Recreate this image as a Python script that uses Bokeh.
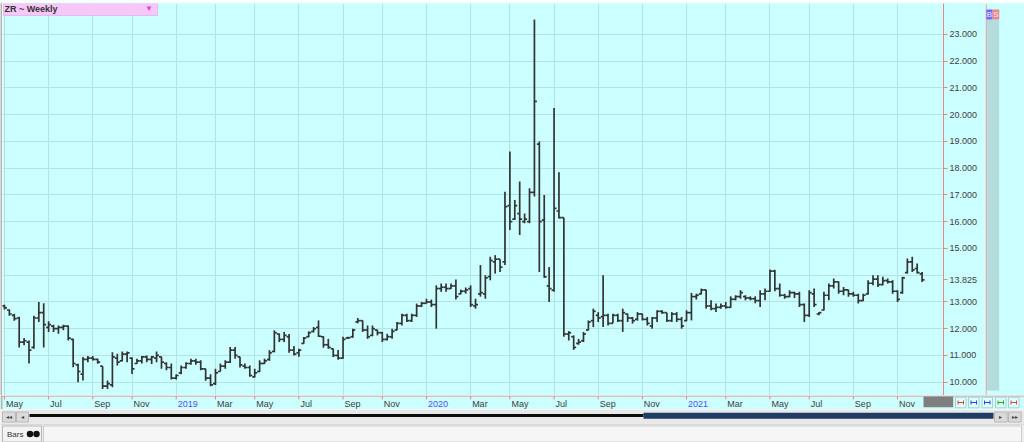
import pandas as pd
from bokeh.plotting import figure
from bokeh.models import (Range1d, FixedTicker, NumeralTickFormatter, Label,
                          BoxAnnotation, ColumnDataSource, Grid)
from bokeh.layouts import column, row
from bokeh.transform import dodge
from bokeh.embed import file_html
from bokeh.resources import INLINE
from bokeh.core.properties import value

# ---------------- data (weekly OHLC, ZR rough rice) ----------------
opens = [12.85, 12.7, 12.5, 12.4, 11.5, 11.5, 11.3, 12.4, 12.6, 12.05,
         12.1, 12.0, 12.05, 12.1, 11.6, 10.65, 10.3, 10.85, 10.9, 10.85,
         10.6, 9.85, 9.9, 10.9, 10.8, 11.05, 10.9, 10.7, 10.8, 10.95,
         10.85, 10.9, 10.95, 10.7, 10.55, 10.15, 10.35, 10.55, 10.7, 10.8,
         10.75, 10.5, 10.15, 9.95, 10.4, 10.6, 10.75, 11.2, 10.95, 10.6,
         10.55, 10.2, 10.4, 10.7, 10.85, 11.15, 11.8, 11.6, 11.7, 11.2,
         11.1, 11.45, 11.7, 11.9, 12.05, 11.7, 11.4, 11.25, 11.0, 10.9,
         11.65, 11.7, 12.25, 12.3, 11.95, 11.75, 11.95, 11.85, 11.6, 11.7,
         11.95, 12.2, 12.5, 12.3, 12.5, 12.85, 12.95, 13.0, 12.9, 13.5,
         13.55, 13.5, 13.6, 13.3, 13.4, 13.5, 12.85, 13.3, 13.3, 13.95,
         14.5, 14.6, 14.5, 16.6, 16.1, 16.3, 16.0, 16.0, 17.1, 18.9,
         16.06, 13.6, 13.44, 16.4, 16.15, 11.8, 11.7, 11.45, 11.55, 11.95,
         12.3, 12.5, 12.45, 12.5, 12.2, 12.5, 12.3, 12.55, 12.4, 12.35,
         12.55, 12.35, 12.1, 12.4, 12.65, 12.6, 12.3, 12.55, 12.35, 12.3,
         12.6, 13.2, 13.3, 13.45, 12.85, 12.75, 12.8, 12.85, 12.8, 13.1,
         13.2, 13.2, 13.15, 13.12, 13.05, 13.3, 13.4, 14.15, 13.5, 13.25,
         13.2, 13.35, 13.3, 12.9, 12.5, 13.3, 12.55, 12.7, 13.25, 13.6,
         13.75, 13.4, 13.45, 13.3, 13.25, 13.05, 13.3, 13.7, 13.85, 13.65,
         13.8, 13.75, 13.4, 13.35, 14.1, 14.5, 14.25, 14.05]
highs = [12.9, 12.72, 12.56, 12.45, 11.65, 11.56, 12.48, 13.0, 12.95, 12.28,
         12.15, 12.12, 12.15, 12.12, 11.62, 10.69, 10.94, 10.98, 10.98, 10.88,
         10.6, 10.06, 11.12, 11.06, 11.15, 11.15, 10.92, 10.88, 10.98, 11.0,
         10.98, 11.15, 10.95, 10.75, 10.7, 10.3, 10.62, 10.75, 10.88, 10.88,
         10.82, 10.5, 10.3, 10.5, 10.7, 10.82, 11.32, 11.32, 10.95, 10.7,
         10.62, 10.5, 10.82, 10.88, 11.2, 11.94, 11.82, 11.88, 11.8, 11.35,
         11.25, 11.69, 11.9, 12.06, 12.31, 11.72, 11.62, 11.26, 11.2, 11.7,
         11.7, 12.0, 12.4, 12.31, 12.12, 12.12, 11.96, 11.88, 11.81, 12.0,
         12.25, 12.56, 12.56, 12.56, 12.94, 13.0, 13.12, 13.09, 13.62, 13.69,
         13.69, 13.69, 13.84, 13.46, 13.54, 13.62, 13.12, 14.38, 14.0, 14.69,
         14.75, 14.6, 17.12, 18.62, 16.81, 17.5, 16.31, 17.25, 23.56, 19.0,
         17.0, 14.31, 20.25, 17.85, 16.15, 11.91, 11.75, 11.62, 11.88, 12.31,
         12.75, 12.62, 14.0, 12.56, 12.56, 12.56, 12.75, 12.56, 12.44, 12.62,
         12.56, 12.44, 12.44, 12.69, 12.69, 12.6, 12.62, 12.62, 12.44, 12.69,
         13.34, 13.31, 13.5, 13.46, 13.06, 12.94, 12.94, 13.0, 13.21, 13.25,
         13.44, 13.25, 13.21, 13.21, 13.44, 13.5, 14.21, 14.2, 13.69, 13.31,
         13.44, 13.38, 13.38, 12.94, 13.44, 13.5, 12.62, 13.38, 13.69, 13.88,
         13.76, 13.56, 13.46, 13.38, 13.31, 13.31, 13.81, 14.0, 14.0, 13.94,
         13.88, 13.81, 13.44, 13.94, 14.62, 14.69, 14.44, 14.12]
lows = [12.72, 12.48, 12.3, 11.3, 11.38, 10.7, 11.25, 12.25, 11.3, 11.88,
        11.88, 11.81, 11.94, 11.56, 10.56, 10.0, 10.06, 10.75, 10.81, 10.69,
        9.75, 9.75, 9.81, 10.62, 10.78, 10.75, 10.31, 10.69, 10.7, 10.75,
        10.68, 10.75, 10.5, 10.45, 10.1, 10.1, 10.3, 10.5, 10.65, 10.65,
        10.45, 10.05, 9.85, 9.9, 10.4, 10.5, 10.72, 10.88, 10.55, 10.5,
        10.2, 10.18, 10.38, 10.68, 10.8, 11.12, 11.5, 11.5, 11.1, 11.0,
        10.95, 11.44, 11.68, 11.86, 11.69, 11.29, 11.25, 10.94, 10.84, 10.88,
        11.62, 11.66, 12.2, 11.88, 11.62, 11.72, 11.75, 11.5, 11.56, 11.62,
        11.94, 12.12, 12.25, 12.25, 12.44, 12.81, 12.94, 12.81, 12.0, 13.38,
        13.38, 13.48, 13.09, 13.29, 13.31, 12.81, 12.75, 13.2, 13.12, 13.81,
        14.06, 14.12, 14.38, 15.69, 16.06, 15.5, 15.94, 15.94, 16.94, 14.12,
        13.9, 13.0, 13.38, 16.12, 11.7, 11.56, 11.21, 11.4, 11.5, 11.94,
        12.06, 12.25, 12.06, 12.12, 12.2, 12.25, 11.88, 12.25, 12.19, 12.3,
        12.31, 12.12, 12.0, 12.25, 12.56, 12.25, 12.25, 12.25, 12.0, 12.28,
        12.31, 13.09, 13.28, 12.75, 12.69, 12.62, 12.75, 12.75, 12.78, 13.06,
        13.12, 13.06, 13.06, 12.95, 12.81, 13.06, 13.38, 13.4, 13.19, 13.12,
        13.18, 13.15, 12.81, 12.25, 12.44, 12.81, 12.5, 12.68, 13.06, 13.5,
        13.31, 13.25, 13.19, 13.19, 12.94, 13.04, 13.28, 13.62, 13.56, 13.62,
        13.69, 13.31, 13.0, 13.31, 14.06, 14.12, 14.06, 13.75]
closes = [12.78, 12.55, 12.38, 11.5, 11.55, 11.2, 12.4, 12.6, 12.15, 12.15,
          12.0, 12.05, 12.1, 11.65, 10.7, 10.4, 10.85, 10.9, 10.85, 10.75,
          9.85, 9.95, 10.95, 10.75, 11.05, 11.1, 10.5, 10.8, 10.95, 10.85,
          10.95, 11.0, 10.75, 10.55, 10.15, 10.25, 10.55, 10.7, 10.8, 10.75,
          10.5, 10.15, 9.9, 10.35, 10.6, 10.75, 11.2, 11.0, 10.65, 10.55,
          10.25, 10.35, 10.7, 10.8, 11.1, 11.85, 11.6, 11.75, 11.2, 11.05,
          11.2, 11.65, 11.85, 12.0, 11.72, 11.4, 11.3, 11.0, 10.9, 11.6,
          11.66, 11.95, 12.3, 11.95, 11.7, 12.0, 11.85, 11.6, 11.7, 11.9,
          12.2, 12.5, 12.3, 12.5, 12.85, 12.95, 13.0, 12.9, 13.5, 13.55,
          13.5, 13.6, 13.2, 13.4, 13.45, 12.9, 12.9, 13.35, 13.9, 14.55,
          14.6, 14.3, 16.56, 16.0, 16.6, 16.1, 16.1, 17.1, 20.5, 16.0,
          13.94, 13.5, 16.5, 16.15, 11.8, 11.85, 11.3, 11.5, 11.8, 12.25,
          12.65, 12.4, 12.5, 12.2, 12.5, 12.3, 12.6, 12.4, 12.3, 12.55,
          12.35, 12.2, 12.4, 12.65, 12.6, 12.3, 12.55, 12.35, 12.1, 12.6,
          13.2, 13.25, 13.45, 12.85, 12.75, 12.8, 12.85, 12.8, 13.1, 13.2,
          13.35, 13.15, 13.12, 13.05, 13.3, 13.4, 14.15, 13.5, 13.25, 13.2,
          13.35, 13.3, 12.9, 12.5, 13.35, 12.9, 12.6, 13.25, 13.6, 13.75,
          13.4, 13.45, 13.3, 13.25, 13.05, 13.25, 13.7, 13.85, 13.65, 13.8,
          13.75, 13.4, 13.1, 13.9, 14.5, 14.2, 14.1, 13.825]

# weekly bar dates (Fridays; holiday weeks dated on the last trading day)
dates = list(pd.date_range("2018-05-04", periods=189, freq="7D"))
dates = [d for d in dates if d != pd.Timestamp("2019-04-19")]
dates = [pd.Timestamp("2020-12-31") if d == pd.Timestamp("2021-01-01") else d
         for d in dates]

price_ticks = list(range(10, 24))
title_text = "ZR ~ Weekly"

# ---------------- styling / layout constants ----------------
BG = "#ccffff"
GRID = "#b2e4e4"
RED = "#e98585"
BAR = "#333333"
FONT = "Liberation Sans"
PX_PER_BAR = 4.907      # horizontal spacing of bars in pixels
FIRST_BAR_X = 3.96      # page x of the first bar

def bar_at(px):
    return (px - FIRST_BAR_X) / PX_PER_BAR

n = len(opens)
idx = list(range(n))

# month ticks: first bar of every odd month
tick_idx, tick_lab, tick_col = [], [], []
for i, d in enumerate(dates):
    if i == 0 or d.month != dates[i - 1].month:
        if d.month % 2 == 1:
            tick_idx.append(i)
            if d.month == 1:
                tick_lab.append(str(d.year))
                tick_col.append("#4f4fff")
            else:
                tick_lab.append(d.strftime("%b"))
                tick_col.append("#3c3c3c")

src = ColumnDataSource(dict(x=idx, o=opens, h=highs, l=lows, c=closes))

def bare(fig):
    fig.xgrid.visible = False
    fig.ygrid.visible = False
    return fig

def strip(width, height, color):
    return bare(figure(width=width, height=height, x_range=Range1d(0, 1),
                       y_range=Range1d(0, 1), toolbar_location=None, output_backend="svg",
                       background_fill_color=color, border_fill_color=color,
                       outline_line_color=None, min_border=0,
                       x_axis_location=None, y_axis_location=None))

# ---------------- top / left border lines ----------------
top = strip(1024, 2, "#a6a6a6")
left = strip(2, 393, "#b4b4b4")

# ---------------- main price chart ----------------
FRAME_H = 392
p = figure(width=983, height=393, x_range=Range1d(bar_at(2), bar_at(943)),
           y_range=Range1d(9.503, 24.157), y_axis_location="right",
           x_axis_location=None, toolbar_location=None, output_backend="svg",
           background_fill_color=BG, border_fill_color=BG,
           outline_line_color=None, min_border_left=0, min_border_right=42,
           min_border_top=1, min_border_bottom=0)

p.xgrid.visible = False
p.add_layout(Grid(dimension=0, ticker=FixedTicker(ticks=tick_idx), grid_line_color=GRID))
p.ygrid.ticker = FixedTicker(ticks=price_ticks)
p.ygrid.grid_line_color = GRID

p.segment(x0="x", y0="l", x1="x", y1="h", source=src, line_color=BAR, line_width=1.7)
p.segment(x0=dodge("x", -0.5), y0="o", x1="x", y1="o", source=src,
          line_color=BAR, line_width=1.7)
p.segment(x0="x", y0="c", x1=dodge("x", 0.5), y1="c", source=src,
          line_color=BAR, line_width=1.7)

last = closes[-1]
ya = p.yaxis[0]
ya.ticker = FixedTicker(ticks=[t for t in price_ticks if t != 14] + [last])
ya.formatter = NumeralTickFormatter(format="0.000")
ya.axis_line_color = RED
ya.major_tick_line_color = RED
ya.major_tick_out = 4
ya.major_tick_in = 0
ya.minor_tick_line_color = None
ya.major_label_text_font_size = "9px"
ya.major_label_text_font = FONT
ya.major_label_text_color = "#404040"
ya.major_label_standoff = 2

# title box (inside the frame, top-left)
p.add_layout(BoxAnnotation(left=1, right=155, top=FRAME_H, bottom=FRAME_H - 12,
                           left_units="screen", right_units="screen",
                           top_units="screen", bottom_units="screen",
                           fill_color="#f7c8f7", fill_alpha=1,
                           line_color="#dd66dd", line_width=1))
p.add_layout(Label(x=2, y=FRAME_H - 5.5, x_units="screen", y_units="screen",
                   text=title_text, text_align="left", text_baseline="middle",
                   text_font=FONT, text_font_size="9px", text_font_style="bold",
                   text_color="#333333"))
p.add_layout(Label(x=146.5, y=FRAME_H - 5, x_units="screen", y_units="screen",
                   text="\u25bc", text_align="center", text_baseline="middle",
                   text_font_size="8px", text_color="#e040e0"))

# ---------------- side strip (right of price scale) ----------------
s = bare(figure(width=39, height=393, x_range=Range1d(985, 1024), y_range=Range1d(395, 2),
                toolbar_location=None, output_backend="svg", background_fill_color=BG,
                border_fill_color=BG, outline_line_color=None, min_border=0,
                x_axis_location=None, y_axis_location=None))
s.quad(left=[986], right=[998.7], top=[18], bottom=[390], fill_color="#b5dcdc", line_color=None)
s.quad(left=[985.7, 992], right=[992, 998.7], top=[8, 8], bottom=[18, 18],
       fill_color=["#6b6bff", "#f08484"], line_color=None)
s.text(x=[988.9, 995.4], y=[13.3, 13.3], text=["B", "S"], text_align="center",
       text_baseline="middle", text_font=value(FONT), text_font_size="8px",
       text_color="#eeeeff")
s.segment(x0=[985.5], y0=[2], x1=[985.5], y1=[395], line_color=RED, line_width=1)

# ---------------- date band (below the chart) ----------------
b = bare(figure(width=1024, height=14, x_range=Range1d(bar_at(0), bar_at(1024)),
                y_range=Range1d(409, 395), toolbar_location=None, output_backend="svg",
                background_fill_color=BG, border_fill_color=BG, outline_line_color=None,
                min_border=0, x_axis_location=None, y_axis_location=None))
b.extra_x_ranges = {"px": Range1d(0, 1024)}
b.quad(left=[0], right=[2], top=[395], bottom=[409], fill_color="#b4b4b4",
       line_color=None, x_range_name="px")
b.segment(x0=[0], y0=[395.5], x1=[1024], y1=[395.5], line_color=RED, line_width=1,
          x_range_name="px")
tsrc = ColumnDataSource(dict(x=tick_idx, lab=tick_lab, col=tick_col))
b.segment(x0="x", y0=395.5, x1="x", y1=399, source=tsrc, line_color=RED, line_width=1)
b.text(x="x", y=403.3, text="lab", source=tsrc, text_color="col", x_offset=1.5,
       text_align="left", text_baseline="middle", text_font=value(FONT),
       text_font_size="9px")
b.quad(left=[923], right=[952.7], top=[396], bottom=[406.7], fill_color="#7f7f7f",
       line_color=None, x_range_name="px")
btn_left = [955, 968, 981.5, 995, 1008]
btn_col = ["#e04040", "#3a3aff", "#3a3aff", "#22b022", "#e04040"]
b.quad(left=btn_left, right=[v + 10.5 for v in btn_left], top=[396.7] * 5,
       bottom=[407.3] * 5, fill_color="#dcffff", line_color="#a8d0d0", x_range_name="px")
b.segment(x0=[v + 2.5 for v in btn_left], y0=[402] * 5, x1=[v + 8 for v in btn_left],
          y1=[402] * 5, line_color=btn_col, line_width=1, x_range_name="px")
b.segment(x0=[v + 2.5 for v in btn_left], y0=[400] * 5, x1=[v + 2.5 for v in btn_left],
          y1=[404] * 5, line_color=btn_col, line_width=1, x_range_name="px")
b.segment(x0=[v + 8 for v in btn_left], y0=[400] * 5, x1=[v + 8 for v in btn_left],
          y1=[404] * 5, line_color=btn_col, line_width=1, x_range_name="px")

# ---------------- scroll bar row ----------------
sc = bare(figure(width=1024, height=14, x_range=Range1d(0, 1024), y_range=Range1d(423, 409),
                 toolbar_location=None, output_backend="svg", background_fill_color="#e9e9e9",
                 border_fill_color="#e9e9e9", outline_line_color=None, min_border=0,
                 x_axis_location=None, y_axis_location=None))
sc.quad(left=[2, 16, 994, 1008], right=[15, 28, 1006.7, 1020.7], top=[411.5] * 4,
        bottom=[421.5] * 4, fill_color="#dadada", line_color="#b8b8b8")
sc.text(x=[8.5, 22, 1000.3, 1014.3], y=[416.5] * 4,
        text=["\u25c2\u25c2", "\u25c2", "\u25b8", "\u25b8\u25b8"],
        text_align="center", text_baseline="middle", text_font_size="6px",
        text_color="#444444")
sc.quad(left=[29], right=[643], top=[413.6], bottom=[416.4], fill_color="#0d0d0d",
        line_color=None)
sc.quad(left=[643], right=[993], top=[412.3], bottom=[418.3], fill_color="#1f3c64",
        line_color=None)

# ---------------- tab row ----------------
tb = bare(figure(width=1024, height=19, x_range=Range1d(0, 1024), y_range=Range1d(442, 423),
                 toolbar_location=None, output_backend="svg", background_fill_color="#eeeeee",
                 border_fill_color="#eeeeee", outline_line_color=None, min_border=0,
                 x_axis_location=None, y_axis_location=None))
tb.segment(x0=[0], y0=[423.5], x1=[1024], y1=[423.5], line_color="#c4c4c4")
tb.quad(left=[43], right=[1021], top=[425.5], bottom=[441.5], fill_color="#f6f6f6",
        line_color="#cccccc")
tb.quad(left=[2], right=[41], top=[425.5], bottom=[441.5], fill_color="#f3f3f3",
        line_color="#b8b8b8")
tb.text(x=[6.5], y=[433.5], text=["Bars"], text_align="left", text_baseline="middle",
        text_font=value(FONT), text_font_size="8px", text_color="#333333")
tb.scatter(x=[29.5, 36], y=[433.5, 433.5], size=6.5, fill_color="#111111", line_color=None)

layout = column(top, row(left, p, s, spacing=0), b, sc, tb, spacing=0)
open("out.html", "w").write(file_html(layout, INLINE))
